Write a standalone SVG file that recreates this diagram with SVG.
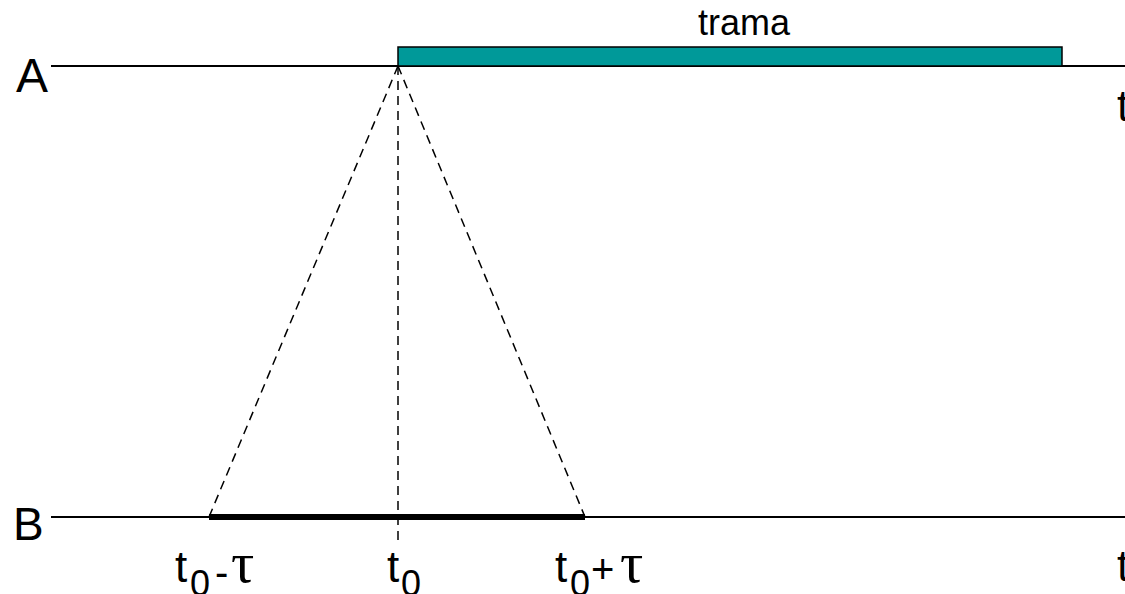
<svg xmlns="http://www.w3.org/2000/svg" width="1125" height="594" viewBox="0 0 1125 594">
<style>
.lbl{font-family:"Liberation Sans",Arial,sans-serif;fill:#000}
.t{font-size:44px}
.sub{font-size:36px}
.tau{font-family:"Liberation Serif","Times New Roman",serif;font-size:58px;fill:#000}
.axis{stroke:#000;stroke-width:2;fill:none}
.dash{stroke:#000;stroke-width:1.5;stroke-dasharray:9,6;fill:none}
</style>
<rect width="1125" height="594" fill="#fff"/>
<g id="connectors">
<line class="dash" x1="398" y1="66" x2="209" y2="517"/>
<line class="dash" x1="398" y1="66" x2="585" y2="517"/>
<line class="dash" x1="398" y1="66" x2="398" y2="545"/>
</g>
<g id="lineA">
<line class="axis" x1="51" y1="66" x2="1125" y2="66"/>
<text class="lbl" font-size="48" x="16" y="92">A</text>
<text class="lbl t" x="1117" y="121">t</text>
</g>
<g id="trama">
<rect x="398" y="47" width="664" height="19" fill="#009999" stroke="#000" stroke-width="1.5"/>
<text class="lbl" x="744" y="35" font-size="36" text-anchor="middle">trama</text>
</g>
<g id="lineB">
<line class="axis" x1="51" y1="517" x2="1125" y2="517"/>
<line stroke="#000" stroke-width="6" x1="209" y1="517" x2="585" y2="517"/>
<text class="lbl" font-size="46" x="13" y="540">B</text>
<text class="lbl t" x="1117" y="581">t</text>
</g>
<g id="label-minus">
<text class="lbl t" x="175" y="582">t</text>
<text class="lbl sub" x="190" y="596">0</text>
<text class="lbl" font-size="40" x="215" y="586">-</text>
<text class="tau" x="231" y="582">τ</text>
</g>
<g id="label-t0">
<text class="lbl t" x="387" y="582">t</text>
<text class="lbl sub" x="401" y="596">0</text>
</g>
<g id="label-plus">
<text class="lbl t" x="555" y="582">t</text>
<text class="lbl sub" x="570" y="596">0</text>
<text class="lbl" font-size="40" x="591" y="583">+</text>
<text class="tau" x="620" y="582">τ</text>
</g>
</svg>
